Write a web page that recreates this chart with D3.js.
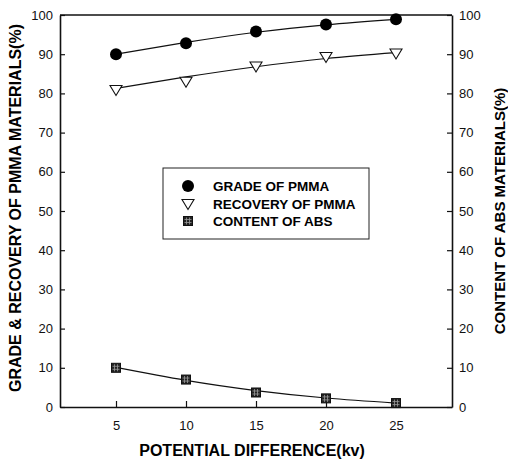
<!DOCTYPE html>
<html>
<head>
<meta charset="utf-8">
<script src="https://cdn.jsdelivr.net/npm/d3@7"></script>
<style>
  body { margin: 0; background: #fff; }
  svg { font-family: "Liberation Sans", Arial, sans-serif; }
  .axis path, .axis line { stroke: #111; }
  .axis text { fill: #111; font-size: 13px; }
</style>
</head>
<body>
<div id="chart"></div>
<script>
// potential difference (kv)
var VOLTAGES = [5, 10, 15, 20, 25];

var GRADE_PMMA    = [90.0, 92.8, 95.8, 97.6, 98.9];
var RECOVERY_PMMA = [81.0, 83.1, 87.0, 89.4, 90.3];
var CONTENT_ABS   = [10.0, 7.0, 3.7, 2.2, 1.0];

// fitted curves as drawn in the figure (%)
var GRADE_FIT    = [90.0, 93.0, 95.6, 97.5, 98.9];
var RECOVERY_FIT = [81.3, 84.2, 86.8, 88.9, 90.4];
var CONTENT_FIT  = [10.1, 6.8, 4.2, 2.3, 1.0];

var X_TICKS = [5, 10, 15, 20, 25];
var Y_TICKS = [0, 10, 20, 30, 40, 50, 60, 70, 80, 90, 100];

var LEGEND = ["GRADE OF PMMA", "RECOVERY OF PMMA", "CONTENT OF ABS"];

var width = 508, height = 459;
var margin = {top: 15, right: 56, bottom: 52, left: 60};
var w = width - margin.left - margin.right;
var h = height - margin.top - margin.bottom;

var svg = d3.select("#chart").append("svg")
	.attr("width", width)
	.attr("height", height);

var g = svg.append("g").attr("transform", "translate(" + margin.left + "," + margin.top + ")");

var x = d3.scaleLinear().domain([1, 29]).range([0, w]);
var y = d3.scaleLinear().domain([0, 100]).range([h, 0]);
var y2 = d3.scaleLinear().domain([0, 100]).range([h, 0]);

// ---------------- axes --------------------
var xAxis = g.append("g").attr("class", "axis")
	.attr("transform", "translate(0," + h + ")")
	.call(d3.axisBottom(x).tickValues(X_TICKS).tickSizeInner(-6).tickSizeOuter(0).tickPadding(14));

var yAxis = g.append("g").attr("class", "axis")
	.call(d3.axisLeft(y).tickValues(Y_TICKS).tickSizeInner(-5).tickSizeOuter(0).tickPadding(7));

var yAxis2 = g.append("g").attr("class", "axis")
	.attr("transform", "translate(" + w + ",0)")
	.call(d3.axisRight(y2).tickValues(Y_TICKS).tickSizeInner(-5).tickSizeOuter(0).tickPadding(7));

g.selectAll(".axis path").attr("stroke-width", 1.6);
g.selectAll(".axis line").attr("stroke-width", 1.2);

// top frame
g.append("line").attr("x1", 0).attr("x2", w).attr("y1", 0).attr("y2", 0)
	.attr("stroke", "#111").attr("stroke-width", 1.4);

// ---------------- titles --------------------
svg.append("text")
	.attr("x", margin.left + w / 2 - 4)
	.attr("y", 456)
	.attr("text-anchor", "middle")
	.style("font-size", "16px").style("font-weight", "bold")
	.text("POTENTIAL DIFFERENCE(kv)");

svg.append("text")
	.attr("transform", "translate(21," + (margin.top + h / 2 - 3) + ") rotate(-90)")
	.attr("text-anchor", "middle")
	.style("font-size", "16px").style("font-weight", "bold")
	.text("GRADE & RECOVERY OF PMMA MATERIALS(%)");

svg.append("text")
	.attr("transform", "translate(505," + (margin.top + h / 2) + ") rotate(-90)")
	.attr("text-anchor", "middle")
	.style("font-size", "15px").style("font-weight", "bold")
	.text("CONTENT OF ABS MATERIALS(%)");

// ---------------- curves --------------------
function fitLine(vals, scale) {
	return d3.line()
		.x(function(d, i) { return x(VOLTAGES[i]); })
		.y(function(d) { return scale(d); })
		.curve(d3.curveNatural)(vals);
}

g.append("path").attr("d", fitLine(GRADE_FIT, y)).attr("fill", "none").attr("stroke", "#111").attr("stroke-width", 1.2);
g.append("path").attr("d", fitLine(RECOVERY_FIT, y)).attr("fill", "none").attr("stroke", "#111").attr("stroke-width", 1.2);
g.append("path").attr("d", fitLine(CONTENT_FIT, y2)).attr("fill", "none").attr("stroke", "#111").attr("stroke-width", 1.2);

// ---------------- markers --------------------
function drawCircle(sel, cx, cy) {
	sel.append("circle").attr("cx", cx).attr("cy", cy).attr("r", 6).attr("fill", "#000");
}
function drawTriangle(sel, cx, cy) {
	sel.append("path")
		.attr("d", "M" + (cx - 6) + "," + (cy - 4) + "L" + (cx + 6) + "," + (cy - 4) + "L" + cx + "," + (cy + 6) + "Z")
		.attr("fill", "#fff").attr("stroke", "#111").attr("stroke-width", 1.1);
}
function drawSquare(sel, cx, cy) {
	var s = 9;
	sel.append("rect").attr("x", cx - s / 2).attr("y", cy - s / 2).attr("width", s).attr("height", s)
		.attr("fill", "#222").attr("stroke", "#111").attr("stroke-width", 1);
	[-1.5, 1.5].forEach(function(o) {
		sel.append("line").attr("x1", cx - s / 2 + 1).attr("x2", cx + s / 2 - 1).attr("y1", cy + o).attr("y2", cy + o)
			.attr("stroke", "#999").attr("stroke-width", 0.8);
		sel.append("line").attr("y1", cy - s / 2 + 1).attr("y2", cy + s / 2 - 1).attr("x1", cx + o).attr("x2", cx + o)
			.attr("stroke", "#999").attr("stroke-width", 0.8);
	});
}

VOLTAGES.forEach(function(v, i) {
	drawCircle(g, x(v), y(GRADE_PMMA[i]));
	drawTriangle(g, x(v), y(RECOVERY_PMMA[i]));
	drawSquare(g, x(v), y2(CONTENT_ABS[i]));
});

// ---------------- legend --------------------
var lg = svg.append("g").attr("transform", "translate(163,168)");
lg.append("rect").attr("width", 206).attr("height", 71)
	.attr("fill", "#fff").attr("stroke", "#222").attr("stroke-width", 1);

var drawers = [drawCircle, drawTriangle, drawSquare];
LEGEND.forEach(function(label, i) {
	var ly = 18 + i * 17.5;
	drawers[i](lg, 25, ly);
	lg.append("text").attr("x", 50).attr("y", ly + 5)
		.style("font-size", "13.5px").style("font-weight", "bold")
		.text(label);
});
</script>
</body>
</html>
